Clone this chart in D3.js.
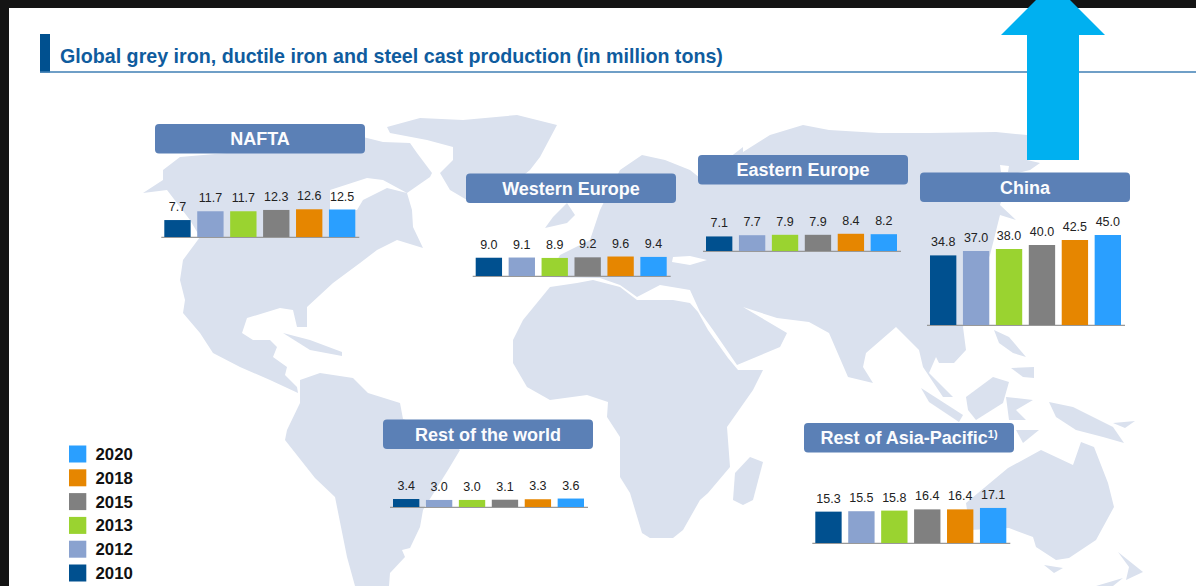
<!DOCTYPE html>
<html><head><meta charset="utf-8"><style>html,body{margin:0;padding:0;background:#111}svg{display:block}text{font-family:"Liberation Sans",Arial,sans-serif}</style>
<script src="https://cdn.jsdelivr.net/npm/d3@7"></script></head><body><div id="c"></div>
<script>
const years=["2010","2012","2013","2015","2018","2020"];
const colours=["#00508f","#8aa2cf","#9ad330","#808080","#e68600","#2a9fff"];
const nafta=[7.7,11.7,11.7,12.3,12.6,12.5];
const westernEurope=[9.0,9.1,8.9,9.2,9.6,9.4];
const easternEurope=[7.1,7.7,7.9,7.9,8.4,8.2];
const china=[34.8,37.0,38.0,40.0,42.5,45.0];
const restOfWorld=[3.4,3.0,3.0,3.1,3.3,3.6];
const restOfAsia=[15.3,15.5,15.8,16.4,16.4,17.1];
const panels=[
 {name:"NAFTA",values:nafta,bx:155,by:124,x0:164.3,base:237,k:2.2},
 {name:"Western Europe",values:westernEurope,bx:466,by:173.5,x0:475.7,base:276,k:2.03},
 {name:"Eastern Europe",values:easternEurope,bx:698,by:155,x0:706,base:251,k:2.05},
 {name:"China",values:china,bx:920,by:172.5,x0:930,base:325,k:2},
 {name:"Rest of the world",values:restOfWorld,bx:383,by:419.5,x0:393,base:507,k:2.35},
 {name:"Rest of Asia-Pacific",sup:"1)",values:restOfAsia,bx:804,by:423,x0:815.3,base:543,k:2.05}];
const land=[
 // North and Central America
 [[143,193],[163,180],[163,170],[180,157],[263,150],[355,135],[363,137],[383,142],[410,143],[417,153],[432,173],[430,177],[407,193],[412,210],[413,227],[423,248],[397,240],[377,250],[360,263],[333,283],[307,307],[307,327],[297,327],[293,310],[280,308],[247,318],[242,333],[253,340],[270,340],[277,347],[273,357],[287,367],[285,375],[297,387],[298,393],[270,380],[240,367],[213,353],[200,333],[183,313],[185,300],[180,280],[183,260],[200,237],[190,220],[167,190]],
 // Greenland
 [[387,127],[420,118],[463,120],[517,115],[557,125],[540,157],[530,170],[493,200],[467,200],[450,190],[440,173],[453,160],[453,147],[427,140],[390,133]],
 // Cuba
 [[283,333],[310,340],[342,352],[342,356],[310,350]],
 // South America
 [[300,380],[320,373],[353,378],[368,393],[400,403],[403,419],[440,432],[460,450],[448,470],[423,510],[420,527],[410,548],[402,550],[405,557],[390,573],[389,586],[355,586],[347,557],[335,497],[315,478],[285,440],[287,430],[300,403]],
 // Africa
 [[550,287],[523,320],[513,340],[513,363],[527,387],[550,400],[587,395],[608,402],[607,417],[620,437],[620,477],[630,493],[642,533],[650,538],[673,538],[683,530],[700,500],[708,493],[730,467],[727,427],[753,390],[763,370],[738,370],[728,358],[708,330],[698,312],[690,303],[673,300],[637,300],[620,287],[593,280],[577,283]],
 // Madagascar
 [[735,473],[750,457],[763,462],[753,500],[743,505],[733,500]],
 // Eurasia
 [[548,277],[560,255],[590,240],[600,210],[620,170],[642,155],[665,160],[690,170],[700,178],[720,165],[743,147],[743,152],[770,135],[803,125],[829,130],[879,133],[929,133],[996,132],[1027,135],[1027,160],[1040,163],[1030,170],[1010,175],[1000,205],[1016,220],[1000,215],[990,255],[975,290],[963,327],[966,350],[954,363],[939,363],[936,357],[929,373],[953,397],[943,397],[923,367],[919,350],[896,327],[866,353],[863,367],[873,383],[848,377],[829,333],[809,322],[777,318],[743,307],[760,317],[787,333],[780,347],[737,365],[713,330],[700,312],[690,290],[660,285],[637,297],[620,285],[600,278]],
 // UK
 [[545,228],[553,217],[567,203],[575,215],[567,223]],
 // Sumatra, Borneo, Sulawesi, Java
 [[921,388],[963,415],[959,422],[929,402]],
 [[966,397],[993,377],[1009,382],[1003,403],[976,420],[968,410]],
 [[1006,397],[1033,400],[1016,410],[1026,420],[1009,420]],
 [[1016,430],[1039,430],[1023,443]],
 // Philippines
 [[994,330],[1009,337],[1026,357],[1013,353],[999,343]],
 [[1011,368],[1034,367],[1034,378],[1023,377]],
 // New Guinea
 [[1049,402],[1073,407],[1113,427],[1124,443],[1103,437],[1076,430],[1056,417]],
 [[1113,423],[1135,421],[1125,428]],
 // Australia, Tasmania, New Zealand
 [[966,503],[1008,468],[1041,450],[1073,465],[1081,442],[1094,447],[1108,483],[1114,507],[1096,540],[1069,558],[1056,560],[1036,547],[1033,537],[1009,528],[970,530]],
 [[1044,565],[1063,568],[1054,573]],
 [[1118,552],[1143,572],[1126,580],[1129,567]],
 [[1096,586],[1123,578],[1113,586]]];
const water=[
 [[367,178],[383,180],[407,193],[387,188],[363,200],[357,210],[330,210],[330,190]],
 [[673,257],[690,256],[707,260],[690,265],[672,262]],
 [[1000,165],[1009,166],[1008,172],[1001,172]]];
const W=1196,H=586;
const svg=d3.select("#c").append("svg").attr("width",W).attr("height",H);
svg.append("rect").attr("width",W).attr("height",H).attr("fill","#141414");
svg.append("rect").attr("x",9).attr("y",8).attr("width",W-9).attr("height",H-8).attr("fill","#fff");
const line=d3.line().curve(d3.curveLinearClosed);
svg.append("g").selectAll("path").data(land).join("path").attr("d",line).attr("fill","#dae1ee");
svg.append("g").selectAll("path").data(water).join("path").attr("d",line).attr("fill","#fff");
svg.append("rect").attr("x",40).attr("y",34).attr("width",10).attr("height",38.5).attr("fill","#00508f");
svg.append("line").attr("x1",40).attr("x2",W).attr("y1",72).attr("y2",72).attr("stroke","#3f7fb5").attr("stroke-width",1.4);
svg.append("text").attr("x",60).attr("y",62.5).attr("font-size",19.66).attr("font-weight","bold").attr("fill","#0f5c9e").text("Global grey iron, ductile iron and steel cast production (in million tons)");
const x=d3.scaleBand().domain(years).range([0,191]).paddingInner(0.2).paddingOuter(0);
panels.forEach(p=>{
 const g=svg.append("g");
 const y=d3.scaleLinear().domain([0,1]).range([0,p.k]);
 g.append("rect").attr("x",p.bx).attr("y",p.by).attr("width",210).attr("height",29.5).attr("rx",4).attr("fill","#5b80b6");
 const t=g.append("text").attr("x",p.bx+105).attr("y",p.by+21).attr("text-anchor","middle").attr("font-size",18).attr("font-weight","bold").attr("fill","#fbfcfe").text(p.name);
 if(p.sup)t.append("tspan").attr("font-size",11).attr("dy",-6).text(p.sup);
 g.append("line").attr("x1",p.x0-3).attr("x2",p.x0+195).attr("y1",p.base+.3).attr("y2",p.base+.3).attr("stroke","#999").attr("stroke-width",1.3);
 p.values.forEach((v,i)=>{
  g.append("rect").attr("x",p.x0+x(years[i])).attr("y",p.base-y(v)).attr("width",x.bandwidth()).attr("height",y(v)).attr("fill",colours[i]);
  g.append("text").attr("x",p.x0+x(years[i])+x.bandwidth()/2).attr("y",p.base-y(v)-9).attr("text-anchor","middle").attr("font-size",12.5).attr("fill","#222").text(v.toFixed(1));
 });
});
const ly=d3.scalePoint().domain(years).range([573,454]);
years.forEach((yr,i)=>{
 svg.append("rect").attr("x",69).attr("y",ly(yr)-8.5).attr("width",17.3).attr("height",17).attr("fill",colours[i]);
 svg.append("text").attr("x",95.5).attr("y",ly(yr)+6).attr("font-size",16.8).attr("font-weight","bold").attr("fill","#111").text(yr);
});
svg.append("path").attr("d",line([[1027,160],[1027,35],[1001,35],[1053,-17],[1105,35],[1079,35],[1079,160]])).attr("fill","#00b0f0");
</script></body></html>
